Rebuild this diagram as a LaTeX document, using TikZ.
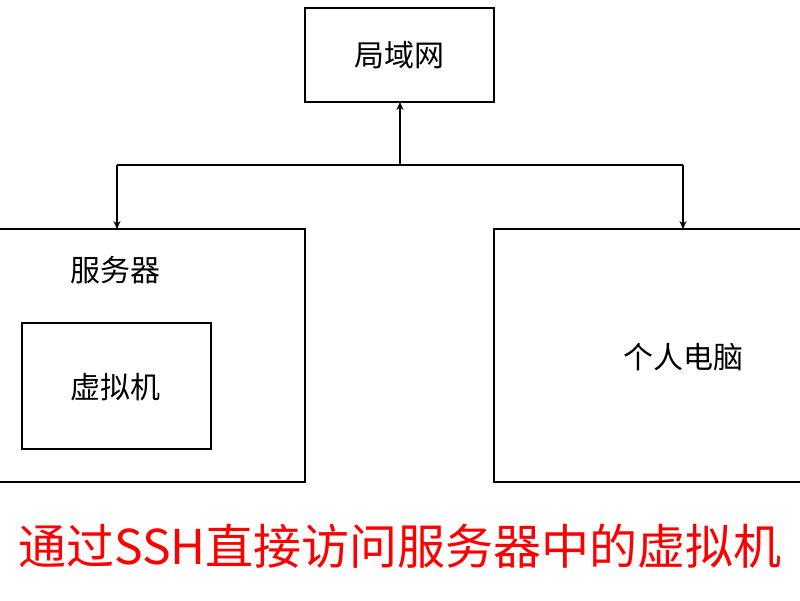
\documentclass[tikz,border=0pt]{standalone}
\usepackage{fontspec}
\setmainfont{Noto Sans CJK SC}
\usetikzlibrary{arrows.meta}
\begin{document}
\begin{tikzpicture}[x=1pt,y=-1pt,
  box/.style={draw,line width=1.2pt,inner sep=0},
  lbl/.style={font=\fontsize{30}{34}\selectfont},
  arr/.style={line width=1.2pt,-{Stealth[length=8pt,width=7pt]}}]
\useasboundingbox (0,0) rectangle (800,600);
\fill[white] (0,0) rectangle (800,600);
\draw[box] (305,8) rectangle (494,102);
\node[lbl] (lan) at (399,55) {局域网};
\coordinate (lanb) at (400,102);
\draw[box] (-2,229) rectangle (305,482);
\node[lbl] (srv) at (115,270) {服务器};
\coordinate (srvt) at (117,229);
\draw[box] (22,323) rectangle (211,449);
\node[lbl] (vm) at (115,387) {虚拟机};
\draw[box] (494,229) rectangle (802,482);
\node[lbl] (pc) at (683,357) {个人电脑};
\coordinate (pct) at (683,229);
\coordinate (j) at (400,165);
\coordinate (jl) at (117,165);
\coordinate (jr) at (683,165);
\draw[arr] (j) -- (lanb);
\draw[line width=1.2pt] (jl) -- (jr);
\draw[arr] (jl) -- (srvt);
\draw[arr] (jr) -- (pct);
\node[text=red,font=\fontsize{48}{54}\selectfont] (title) at (400,546) {通过SSH直接访问服务器中的虚拟机};
\end{tikzpicture}
\end{document}
